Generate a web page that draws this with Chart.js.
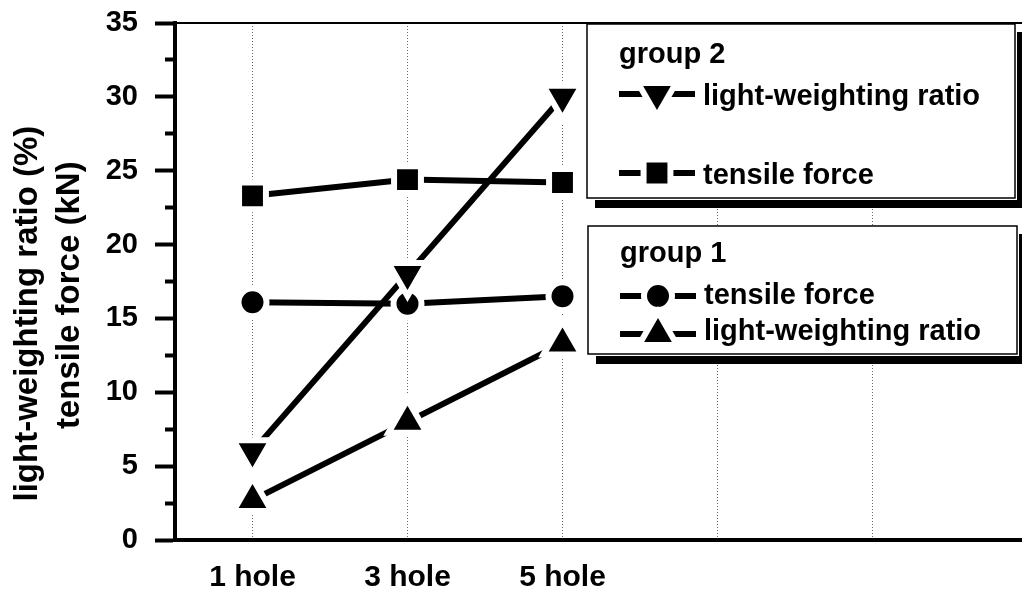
<!DOCTYPE html>
<html>
<head>
<meta charset="utf-8">
<script src="https://cdn.jsdelivr.net/npm/chart.js@4.4.1/dist/chart.umd.min.js"></script>
<style>
  html, body { margin: 0; padding: 0; background: #fff; overflow: hidden; }
  #wrap { width: 1110px; height: 596px; }
</style>
</head>
<body>
<div id="wrap"><canvas id="chart" width="1110" height="596"></canvas></div>
<script>
// categories (the last three slots are empty in the original)
const categories = ['1 hole', '3 hole', '5 hole', '', '', ''];

// group 2
const g2Ratio = [6.0, 18.0, 30.0];
const g2Force = [23.3, 24.4, 24.2];
// group 1
const g1Force = [16.1, 16.0, 16.5];
const g1Ratio = [2.7, 8.0, 13.3];

const yTitle = ['light-weighting ratio (%)       ', 'tensile force (kN)   '];
const FONT = '"Liberation Sans", Arial, Helvetica, sans-serif';

// marker styles, white border gives the gap between line and marker
const markers = {
    down:   { pointStyle: 'triangle', rotation: 180, radius: 22, borderWidth: 6 },
    up:     { pointStyle: 'triangle', rotation: 0,   radius: 22, borderWidth: 6 },
    square: { pointStyle: 'rect',     rotation: 0,   radius: 19, borderWidth: 6 },
    circle: { pointStyle: 'circle',   rotation: 0,   radius: 14, borderWidth: 6 }
};

function makeSet(label, data, m) {
    return {
        label: label,
        data: data,
        borderColor: '#000',
        borderWidth: 6,
        pointStyle: m.pointStyle,
        pointRotation: m.rotation,
        pointRadius: m.radius,
        pointBackgroundColor: '#000',
        pointBorderColor: '#fff',
        pointBorderWidth: m.borderWidth,
        fill: false,
        tension: 0
    };
}

// the two boxed legends, drawn by hand
const legendGroups = [
    { title: 'group 2', box: [587, 24, 428, 174], titleY: 63,
      rows: [ { text: 'light-weighting ratio', m: markers.down, y: 94, ty: 105 },
              { text: 'tensile force', m: markers.square, y: 173, ty: 184 } ] },
    { title: 'group 1', box: [588, 226, 429, 128], titleY: 262,
      rows: [ { text: 'tensile force', m: markers.circle, y: 296, ty: 304 },
              { text: 'light-weighting ratio', m: markers.up, y: 334, ty: 340 } ] }
];

const boxLegend = {
    id: 'boxLegend',
    afterDraw(chart) {
        const ctx = chart.ctx;
        ctx.save();
        legendGroups.forEach(g => {
            const [x, y, w, h] = g.box;
            // shadow
            ctx.fillStyle = '#000';
            ctx.fillRect(x + 8, y + 8, w + 2, h + 2);
            ctx.fillStyle = '#fff';
            ctx.fillRect(x, y, w + 2, h + 2);
            ctx.strokeStyle = '#000';
            ctx.lineWidth = 1.5;
            ctx.strokeRect(x, y, w, h);

            ctx.fillStyle = '#000';
            ctx.font = 'bold 29px ' + FONT;
            ctx.textAlign = 'left';
            ctx.textBaseline = 'alphabetic';
            ctx.fillText(g.title, x + 32, g.titleY);

            g.rows.forEach(r => {
                const lx = x + 32, cx = x + 70;
                ctx.strokeStyle = '#000';
                ctx.lineWidth = 6;
                ctx.beginPath();
                ctx.moveTo(lx, r.y);
                ctx.lineTo(lx + 76, r.y);
                ctx.stroke();
                ctx.fillStyle = '#000';
                ctx.strokeStyle = '#fff';
                ctx.lineWidth = r.m.borderWidth;
                Chart.helpers.drawPoint(ctx, {
                    pointStyle: r.m.pointStyle,
                    rotation: r.m.rotation,
                    radius: r.m.radius,
                    borderWidth: r.m.borderWidth
                }, cx, r.y);
                ctx.fillStyle = '#000';
                ctx.fillText(r.text, x + 116, r.ty);
            });
        });
        ctx.restore();
    }
};

new Chart(document.getElementById('chart'), {
    type: 'line',
    data: {
        labels: categories,
        datasets: [
            makeSet('group 2 light-weighting ratio', g2Ratio, markers.down),
            makeSet('group 2 tensile force', g2Force, markers.square),
            makeSet('group 1 tensile force', g1Force, markers.circle),
            makeSet('group 1 light-weighting ratio', g1Ratio, markers.up)
        ]
    },
    options: {
        responsive: false,
        animation: false,
        events: [],
        layout: { autoPadding: false, padding: { top: 23, left: 0, right: 5, bottom: 0 } },
        plugins: {
            legend: { display: false },
            tooltip: { enabled: false }
        },
        scales: {
            x: {
                type: 'category',
                position: 'bottom',
                offset: true,
                grid: {
                    offset: false,
                    color: '#666',
                    lineWidth: 1,
                    drawTicks: false
                },
                border: { color: '#000', width: 4, dash: [1, 2] },
                ticks: {
                    autoSkip: false,
                    maxRotation: 0,
                    color: '#000',
                    padding: 20,
                    font: { family: FONT, size: 30, weight: 'bold' }
                },
                afterFit(scale) { scale.height = 56; }
            },
            xTop: {
                type: 'category',
                position: 'top',
                offset: true,
                grid: { drawOnChartArea: false, drawTicks: false },
                border: { color: '#000', width: 2 },
                ticks: { display: false },
                afterFit(scale) { scale.height = 0; }
            },
            y: {
                min: 0,
                max: 35,
                ticks: {
                    stepSize: 2.5,
                    autoSkip: false,
                    color: '#000',
                    padding: 17,
                    // small lineHeight only trims the space reserved above the top label
                    font: { family: FONT, size: 29, weight: 'bold', lineHeight: 0.12 },
                    callback: v => (v % 5 === 0 ? v : '')
                },
                grid: {
                    drawOnChartArea: false,
                    tickLength: 20,
                    tickWidth: 4,
                    tickColor: '#000',
                    tickBorderDash: ctx => (ctx.tick && ctx.tick.value % 5 !== 0 ? [0, 10, 10] : [])
                },
                border: { color: '#000', width: 4 },
                title: {
                    display: true,
                    text: yTitle,
                    color: '#000',
                    font: { family: FONT, size: 33, weight: 'bold', lineHeight: 1.3 },
                    padding: { top: 6, bottom: 0 }
                },
                afterFit(scale) { scale.width = 175; }
            }
        }
    },
    plugins: [boxLegend]
});
</script>
</body>
</html>
